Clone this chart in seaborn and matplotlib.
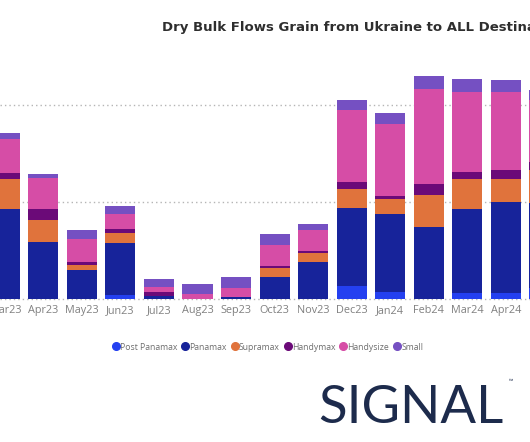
import matplotlib
matplotlib.use("Agg")
import matplotlib.pyplot as plt
import numpy as np
import pandas as pd
import seaborn as sns
from matplotlib.lines import Line2D

# ---- data (thousand tonnes) ----
months = ["Mar23", "Apr23", "May23", "Jun23", "Jul23", "Aug23", "Sep23", "Oct23",
          "Nov23", "Dec23", "Jan24", "Feb24", "Mar24", "Apr24", "May24"]
post_panamax = [0, 0, 0, 41, 0, 0, 0, 0, 0, 134, 78, 0, 62, 62, 113]
panamax = [935, 595, 302, 539, 31, 0, 28, 234, 381, 804, 801, 745, 872, 944, 876]
supramax = [309, 220, 56, 107, 0, 0, 0, 89, 93, 196, 152, 330, 306, 231, 340]
handymax = [62, 120, 31, 37, 48, 0, 0, 18, 21, 78, 37, 113, 75, 93, 82]
handysize = [351, 320, 237, 155, 52, 59, 89, 216, 216, 742, 739, 979, 825, 810, 639]
small = [58, 41, 86, 82, 82, 96, 110, 113, 62, 100, 110, 137, 131, 117, 103]

series_names = ["Post Panamax", "Panamax", "Supramax", "Handymax", "Handysize", "Small"]
series_values = [post_panamax, panamax, supramax, handymax, handysize, small]
colors = ["#2440F0", "#17239A", "#E0733C", "#6B0A78", "#D64DA6", "#7550C2"]

title = "Dry Bulk Flows Grain from Ukraine to ALL Destinations"

# ---- figure ----
sns.set_theme(style="white")
plt.rcParams["font.family"] = ["Open Sans", "DejaVu Sans"]

W, H = 530, 442
fig = plt.figure(figsize=(W / 100, H / 100), dpi=100)
base_px = 299.3
top_px = base_px - 242.5
ax = fig.add_axes([0, (H - base_px) / H, 1, (base_px - top_px) / H])

df = pd.DataFrame({"Month": months})
for name, vals in zip(series_names, series_values):
    df[name] = vals
cum = df[series_names].cumsum(axis=1)
cum.insert(0, "Month", months)

for name, color in reversed(list(zip(series_names, colors))):
    sns.barplot(data=cum, x="Month", y=name, order=months, color=color,
                saturation=1, width=0.78, linewidth=0, ax=ax, zorder=2)

ax.set_xlim(-0.125, 13.63)
ax.set_ylim(0, 2500)
ax.set_yticks([1000, 2000])
ax.yaxis.grid(True, linestyle=(0, (1, 2.2)), color="#b5b5b5", linewidth=1)
ax.xaxis.grid(False)
ax.set_axisbelow(True)
ax.axhline(0, linestyle=(0, (1, 2.2)), color="#b5b5b5", linewidth=1, zorder=0, clip_on=False)
for s in ax.spines.values():
    s.set_visible(False)
ax.tick_params(axis="y", left=False, labelleft=False)
ax.tick_params(axis="x", bottom=False, length=0, labelsize=7.8, labelcolor="#808080", pad=4)
ax.set_xlabel("")
ax.set_ylabel("")

# title
fig.text(162 / W, 1 - 30.5 / H, title, ha="left", va="baseline", fontsize=9.55,
         fontweight="bold", color="#2e2e2e", family=["DejaVu Sans"])

# legend
handles = [Line2D([0], [0], marker="o", linestyle="none", markersize=5.5,
                  markerfacecolor=c, markeredgecolor=c) for c in colors]
fig.legend(handles, series_names, loc="center", bbox_to_anchor=(268 / W, 1 - 347 / H),
           ncol=6, frameon=False, fontsize=6.2, handlelength=0.7, handletextpad=0.15,
           columnspacing=0.55, labelcolor="#6e6e6e")

# logo
fig.text(318 / W, 1 - 423 / H, "SIGNAL", ha="left", va="baseline", fontsize=38,
         color="#1d2b4c", family=["Lato", "DejaVu Sans"], fontweight="normal")
fig.text(509 / W, 1 - 383 / H, "™", ha="left", va="baseline", fontsize=4,
         color="#1d2b4c")

fig.savefig("out.png", dpi=100)
